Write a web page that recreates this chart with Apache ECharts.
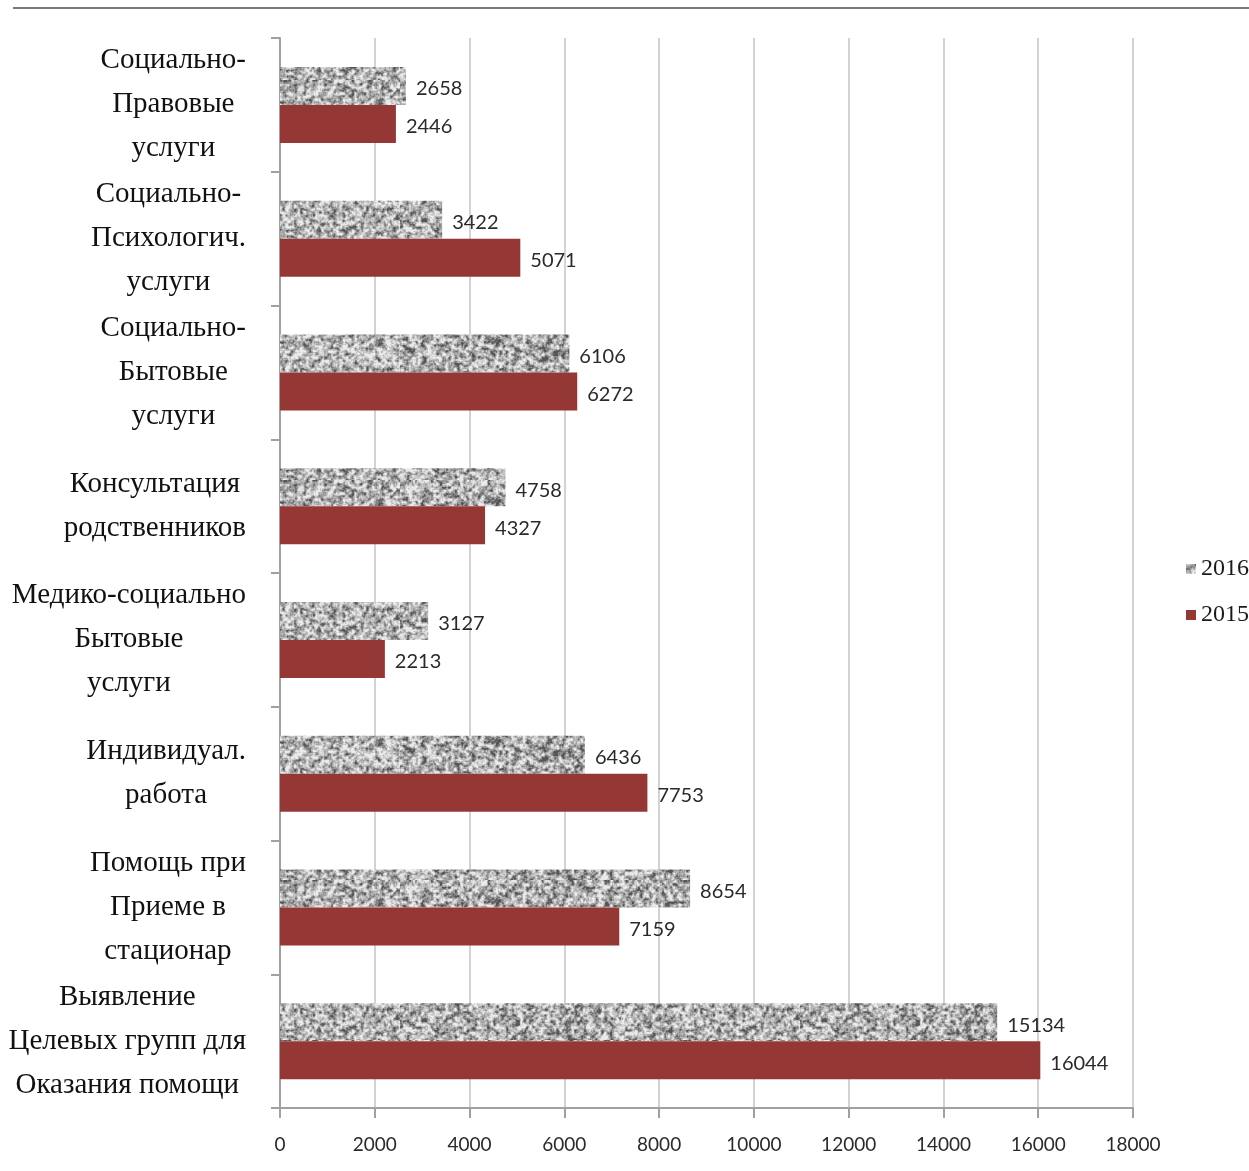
<!DOCTYPE html>
<html>
<head>
<meta charset="utf-8">
<script src="https://cdn.jsdelivr.net/npm/echarts@6/dist/echarts.min.js"></script>
<style>
  html, body { margin: 0; padding: 0; background: #fff; }
  #chart { width: 1249px; height: 1171px; }
</style>
</head>
<body>
<div id="chart"></div>
<script>
// Services, listed top to bottom
const categories = [
  'Социально-\nПравовые\nуслуги',
  'Социально-\nПсихологич.\nуслуги',
  'Социально-\nБытовые\nуслуги',
  'Консультация\nродственников',
  'Медико-социально\nБытовые\nуслуги',
  'Индивидуал.\nработа',
  'Помощь при\nПриеме в\nстационар',
  'Выявление\nЦелевых групп для\nОказания помощи'
];
const values2016 = [2658, 3422, 6106, 4758, 3127, 6436, 8654, 15134];
const values2015 = [2446, 5071, 6272, 4327, 2213, 7753, 7159, 16044];
const seriesNames = ['2016', '2015'];
const axisTicks = [0, 2000, 4000, 6000, 8000, 10000, 12000, 14000, 16000, 18000];

// Grey speckled fill for the 2016 bars (two octaves of smoothed noise)
function makeSpeckle(w, h) {
  let s = 24681;
  const rnd = () => { s = (s * 1103515245 + 12345) & 0x7fffffff; return s / 0x7fffffff; };
  function layer(scale) {
    const sw = Math.ceil(w / scale) + 1, sh = Math.ceil(h / scale) + 1;
    const small = document.createElement('canvas');
    small.width = sw; small.height = sh;
    const sc = small.getContext('2d');
    const img = sc.createImageData(sw, sh);
    for (let i = 0; i < sw * sh; i++) {
      const g = Math.round(255 * rnd());
      img.data[i * 4] = g; img.data[i * 4 + 1] = g; img.data[i * 4 + 2] = g; img.data[i * 4 + 3] = 255;
    }
    sc.putImageData(img, 0, 0);
    const c = document.createElement('canvas');
    c.width = w; c.height = h;
    const ctx = c.getContext('2d');
    ctx.imageSmoothingEnabled = true;
    ctx.drawImage(small, 0, 0, sw * scale, sh * scale);
    return ctx.getImageData(0, 0, w, h).data;
  }
  const a = layer(3), b = layer(1.5);
  const out = document.createElement('canvas');
  out.width = w; out.height = h;
  const octx = out.getContext('2d');
  const img = octx.createImageData(w, h);
  for (let i = 0; i < w * h; i++) {
    let t = (0.6 * a[i * 4] + 0.4 * b[i * 4]) / 255;
    t = Math.max(0, Math.min(1, (t - 0.5) * 2.0 + 0.55));
    const g = Math.round(85 + 150 * Math.pow(t, 0.8));
    img.data[i * 4] = g; img.data[i * 4 + 1] = g; img.data[i * 4 + 2] = g; img.data[i * 4 + 3] = 255;
  }
  octx.putImageData(img, 0, 0);
  return out;
}
const speckle = makeSpeckle(400, 80);

const serif = '"Liberation Serif", "DejaVu Serif", serif';
const sans = 'Lato, "Liberation Sans", sans-serif';

const chart = echarts.init(document.getElementById('chart'), null, { renderer: 'canvas' });

const valueLabel = {
  show: true,
  position: 'right',
  distance: 10,
  offset: [0, 3],
  fontFamily: sans,
  fontSize: 20,
  color: '#2a2a2a'
};

chart.setOption({
  animation: false,
  backgroundColor: '#fff',
  grid: { left: 280, right: 116, top: 38, bottom: 63, containLabel: false },
  legend: {
    orient: 'vertical',
    right: 0,
    top: 557,
    padding: 0,
    itemWidth: 10,
    itemHeight: 10,
    itemGap: 22,
    icon: 'rect',
    textStyle: { fontFamily: serif, fontSize: 24, color: '#1a1a1a', padding: [0, 0, 0, 0] },
    data: seriesNames
  },
  xAxis: {
    type: 'value',
    min: 0,
    max: 18000,
    interval: 2000,
    axisLine: { show: true, lineStyle: { color: '#a0a0a0', width: 2 } },
    axisTick: { show: true, length: 10, lineStyle: { color: '#a0a0a0', width: 2 } },
    splitLine: { show: true, lineStyle: { color: '#c4c4c4', width: 1.5 } },
    axisLabel: {
      margin: 27,
      fontFamily: sans,
      fontSize: 19,
      color: '#2a2a2a',
      formatter: v => axisTicks.includes(v) ? String(v) : ''
    }
  },
  yAxis: {
    type: 'category',
    inverse: true,
    data: categories,
    axisLine: { show: true, lineStyle: { color: '#a0a0a0', width: 2 } },
    axisTick: { show: true, length: 9, lineStyle: { color: '#a0a0a0', width: 2 } },
    axisLabel: {
      margin: 34,
      align: 'right',
      formatter: v => v.split('\n').map(l => '{c|' + l + '}').join('\n'),
      rich: {
        c: { align: 'center', fontFamily: serif, fontSize: 29, lineHeight: 44, color: '#111' }
      }
    }
  },
  graphic: [{
    type: 'line',
    shape: { x1: 13, y1: 8, x2: 1249, y2: 8 },
    style: { stroke: '#7a7a7a', lineWidth: 2 }
  }],
  series: [
    {
      name: seriesNames[0],
      type: 'bar',
      data: values2016,
      barWidth: 38,
      barGap: '0%',
      itemStyle: { color: { image: speckle, repeat: 'repeat' } },
      label: valueLabel
    },
    {
      name: seriesNames[1],
      type: 'bar',
      data: values2015,
      barWidth: 38,
      barGap: '0%',
      itemStyle: { color: '#953735' },
      label: valueLabel
    }
  ]
});
</script>
</body>
</html>
